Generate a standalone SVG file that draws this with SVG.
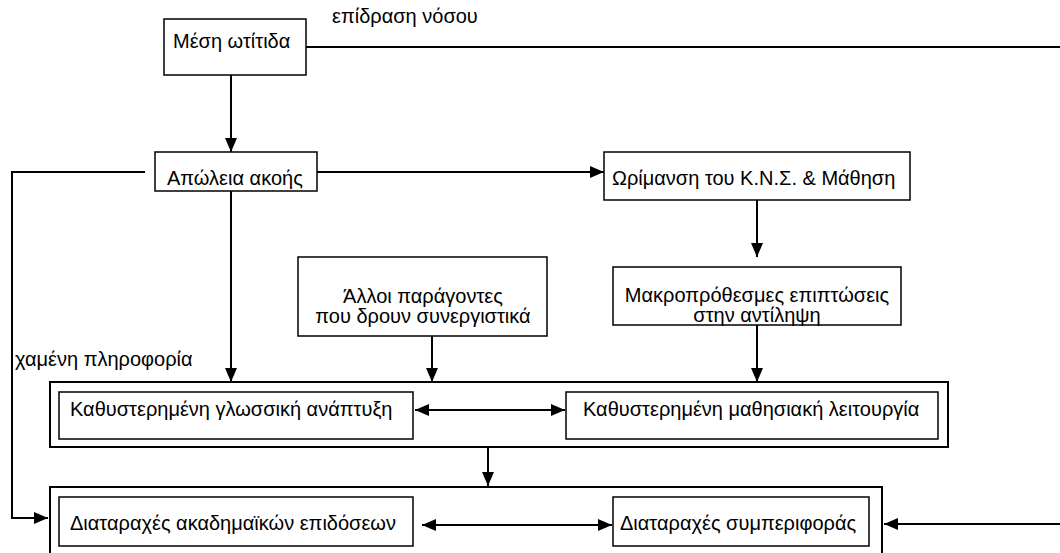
<svg xmlns="http://www.w3.org/2000/svg" width="1060" height="553" viewBox="0 0 1060 553">
<style>
text{font-family:"Liberation Sans",Arial,sans-serif;font-size:20px;fill:#000}
.box{fill:#fff;stroke:#000;stroke-width:1.5}
.outer{fill:none;stroke:#000;stroke-width:2}
.ln{fill:none;stroke:#000;stroke-width:2}
</style>
<defs>
<marker id="ah" viewBox="0 0 14 12" refX="14" refY="6" markerWidth="14" markerHeight="12" markerUnits="userSpaceOnUse" orient="auto-start-reverse">
<path d="M0,0 L14,6 L0,12 Z" fill="#000"/>
</marker>
</defs>
<g id="outer1"><rect class="outer" x="50" y="382" width="898" height="65"/></g>
<g id="outer2"><path class="outer" d="M50,560 V487 H882 V560"/></g>
<g id="n-mesi"><rect class="box" x="164" y="19" width="142" height="56"/><text x="173" y="48">Μέση ωτίτιδα</text></g>
<g id="n-apoleia"><rect class="box" x="155" y="152" width="162" height="39"/><text x="167" y="185">Απώλεια ακοής</text></g>
<g id="n-orimansi"><rect class="box" x="604" y="152" width="306" height="48"/><text x="612" y="185">Ωρίμανση του Κ.Ν.Σ. &amp; Μάθηση</text></g>
<g id="n-alloi"><rect class="box" x="298" y="257" width="249" height="79"/><text x="423" y="303" text-anchor="middle">Άλλοι παράγοντες</text><text x="423" y="323" text-anchor="middle">που δρουν συνεργιστικά</text></g>
<g id="n-makro"><rect class="box" x="613" y="267" width="288" height="58"/><text x="757" y="302" text-anchor="middle">Μακροπρόθεσμες επιπτώσεις</text><text x="757" y="322" text-anchor="middle">στην αντίληψη</text></g>
<g id="n-glossa"><rect class="box" x="59" y="392" width="354" height="47"/><text x="70" y="416">Καθυστερημένη γλωσσική ανάπτυξη</text></g>
<g id="n-mathisi"><rect class="box" x="566" y="392" width="372" height="47"/><text x="583" y="416">Καθυστερημένη μαθησιακή λειτουργία</text></g>
<g id="n-akadim"><rect class="box" x="59" y="497" width="354" height="49"/><text x="70" y="530">Διαταραχές ακαδημαϊκών επιδόσεων</text></g>
<g id="n-symper"><rect class="box" x="613" y="497" width="256" height="49"/><text x="620" y="530">Διαταραχές συμπεριφοράς</text></g>
<g id="connectors">
<line class="ln" x1="306" y1="47" x2="1060" y2="47"/>
<line class="ln" x1="1060" y1="524" x2="884" y2="524" marker-end="url(#ah)"/>
<line class="ln" x1="231" y1="75" x2="231" y2="152" marker-end="url(#ah)"/>
<line class="ln" x1="317" y1="172" x2="604" y2="172" marker-end="url(#ah)"/>
<path class="ln" d="M145,172 H12 V518 H48" marker-end="url(#ah)"/>
<line class="ln" x1="757" y1="200" x2="757" y2="257" marker-end="url(#ah)"/>
<line class="ln" x1="231" y1="191" x2="231" y2="382" marker-end="url(#ah)"/>
<line class="ln" x1="432" y1="336" x2="432" y2="382" marker-end="url(#ah)"/>
<line class="ln" x1="757" y1="325" x2="757" y2="382" marker-end="url(#ah)"/>
<line class="ln" x1="415" y1="410" x2="565" y2="410" marker-start="url(#ah)" marker-end="url(#ah)"/>
<line class="ln" x1="488" y1="447" x2="488" y2="486" marker-end="url(#ah)"/>
<line class="ln" x1="422" y1="525" x2="612" y2="525" marker-start="url(#ah)" marker-end="url(#ah)"/>
</g>
<text x="332" y="23">επίδραση νόσου</text>
<text x="15" y="366">χαμένη πληροφορία</text>
</svg>
